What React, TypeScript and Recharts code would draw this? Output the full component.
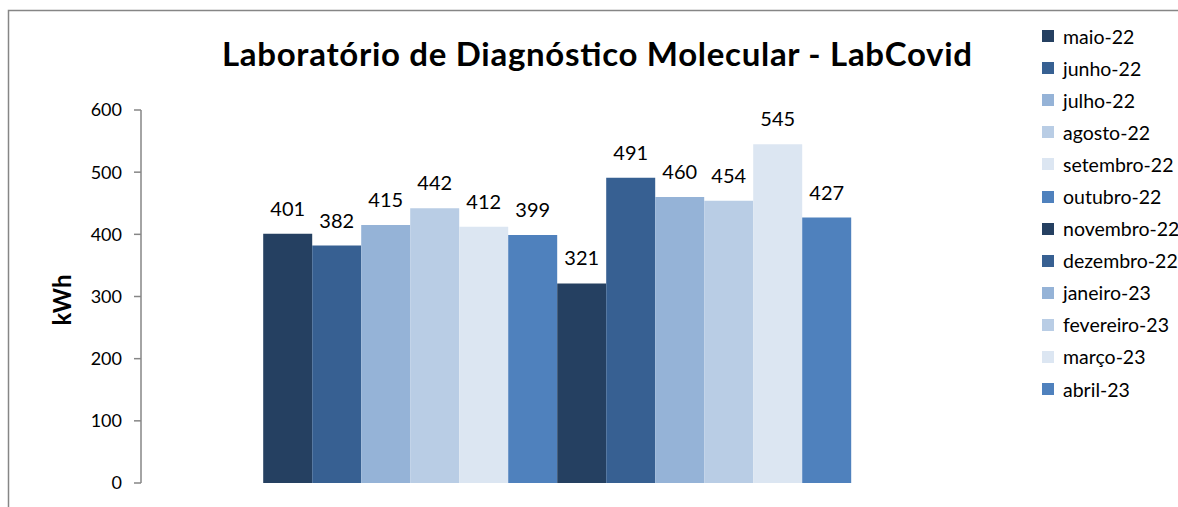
import { BarChart, Bar, XAxis, YAxis, Legend, LabelList } from "recharts";

const months = [
  "maio-22",
  "junho-22",
  "julho-22",
  "agosto-22",
  "setembro-22",
  "outubro-22",
  "novembro-22",
  "dezembro-22",
  "janeiro-23",
  "fevereiro-23",
  "março-23",
  "abril-23",
];
const consumo = [401, 382, 415, 442, 412, 399, 321, 491, 460, 454, 545, 427];
const yTicks = [0, 100, 200, 300, 400, 500, 600];
const palette = ["#254061", "#376092", "#95b3d7", "#b9cde5", "#dce6f2", "#4f81bd"];

const FONT = "Lato, 'Open Sans', sans-serif";
const AXIS = "#868686";

const row: Record<string, string | number> = { name: "LabCovid" };
months.forEach((m, i) => {
  row[m] = consumo[i];
});
const data = [row];

const LegendList = () => (
  <div style={{ fontFamily: FONT, fontSize: 19.5, color: "#000" }}>
    {months.map((m, i) => (
      <div key={m} style={{ display: "flex", alignItems: "center", height: 32.1 }}>
        <span
          style={{
            width: 12,
            height: 12,
            background: palette[i % palette.length],
            marginRight: 9,
            flexShrink: 0,
          }}
        />
        <span style={{ whiteSpace: "nowrap" }}>{m}</span>
      </div>
    ))}
  </div>
);

export default function App() {
  return (
    <div style={{ position: "absolute", left: 0, top: 0, width: 1178, height: 507, overflow: "hidden" }}>
      <BarChart
        width={1178}
        height={507}
        data={data}
        margin={{ top: 110, right: 64, bottom: 24, left: 0 }}
        barGap={0}
        barCategoryGap="14.6%"
      >
        <XAxis dataKey="name" hide />
        <YAxis
          width={141}
          domain={[0, 600]}
          ticks={yTicks}
          interval={0}
          tickSize={7}
          tickMargin={12}
          axisLine={{ stroke: AXIS, strokeWidth: 1.5 }}
          tickLine={{ stroke: AXIS, strokeWidth: 1.5 }}
          tick={{ fill: "#000", fontSize: 18, fontFamily: FONT }}
        />
        <Legend
          layout="vertical"
          align="right"
          verticalAlign="top"
          content={() => <LegendList />}
          wrapperStyle={{ left: 1042, top: 20, width: 136 }}
        />
        {months.map((m, i) => (
          <Bar
            key={m}
            dataKey={m}
            fill={palette[i % palette.length]}
            isAnimationActive={false}
          >
            <LabelList
              dataKey={m}
              position="top"
              offset={18}
              fill="#000"
              fontSize={20}
              fontFamily={FONT}
            />
          </Bar>
        ))}
      </BarChart>
      <svg
        width={1178}
        height={507}
        style={{ position: "absolute", left: 0, top: 0, pointerEvents: "none" }}
      >
        <path d="M8.5 507 L8.5 10.5 L1178 10.5" fill="none" stroke={AXIS} strokeWidth={1.5} />
        <text
          x={597}
          y={66}
          textAnchor="middle"
          fontFamily={FONT}
          fontWeight="bold"
          fontSize={33}
          textLength={750}
          lengthAdjust="spacing"
          fill="#000"
        >
          Laboratório de Diagnóstico Molecular - LabCovid
        </text>
        <text
          x={0}
          y={0}
          transform="translate(71,300) rotate(-90)"
          textAnchor="middle"
          fontFamily={FONT}
          fontWeight="bold"
          fontSize={24}
          fill="#000"
        >
          kWh
        </text>
      </svg>
    </div>
  );
}
